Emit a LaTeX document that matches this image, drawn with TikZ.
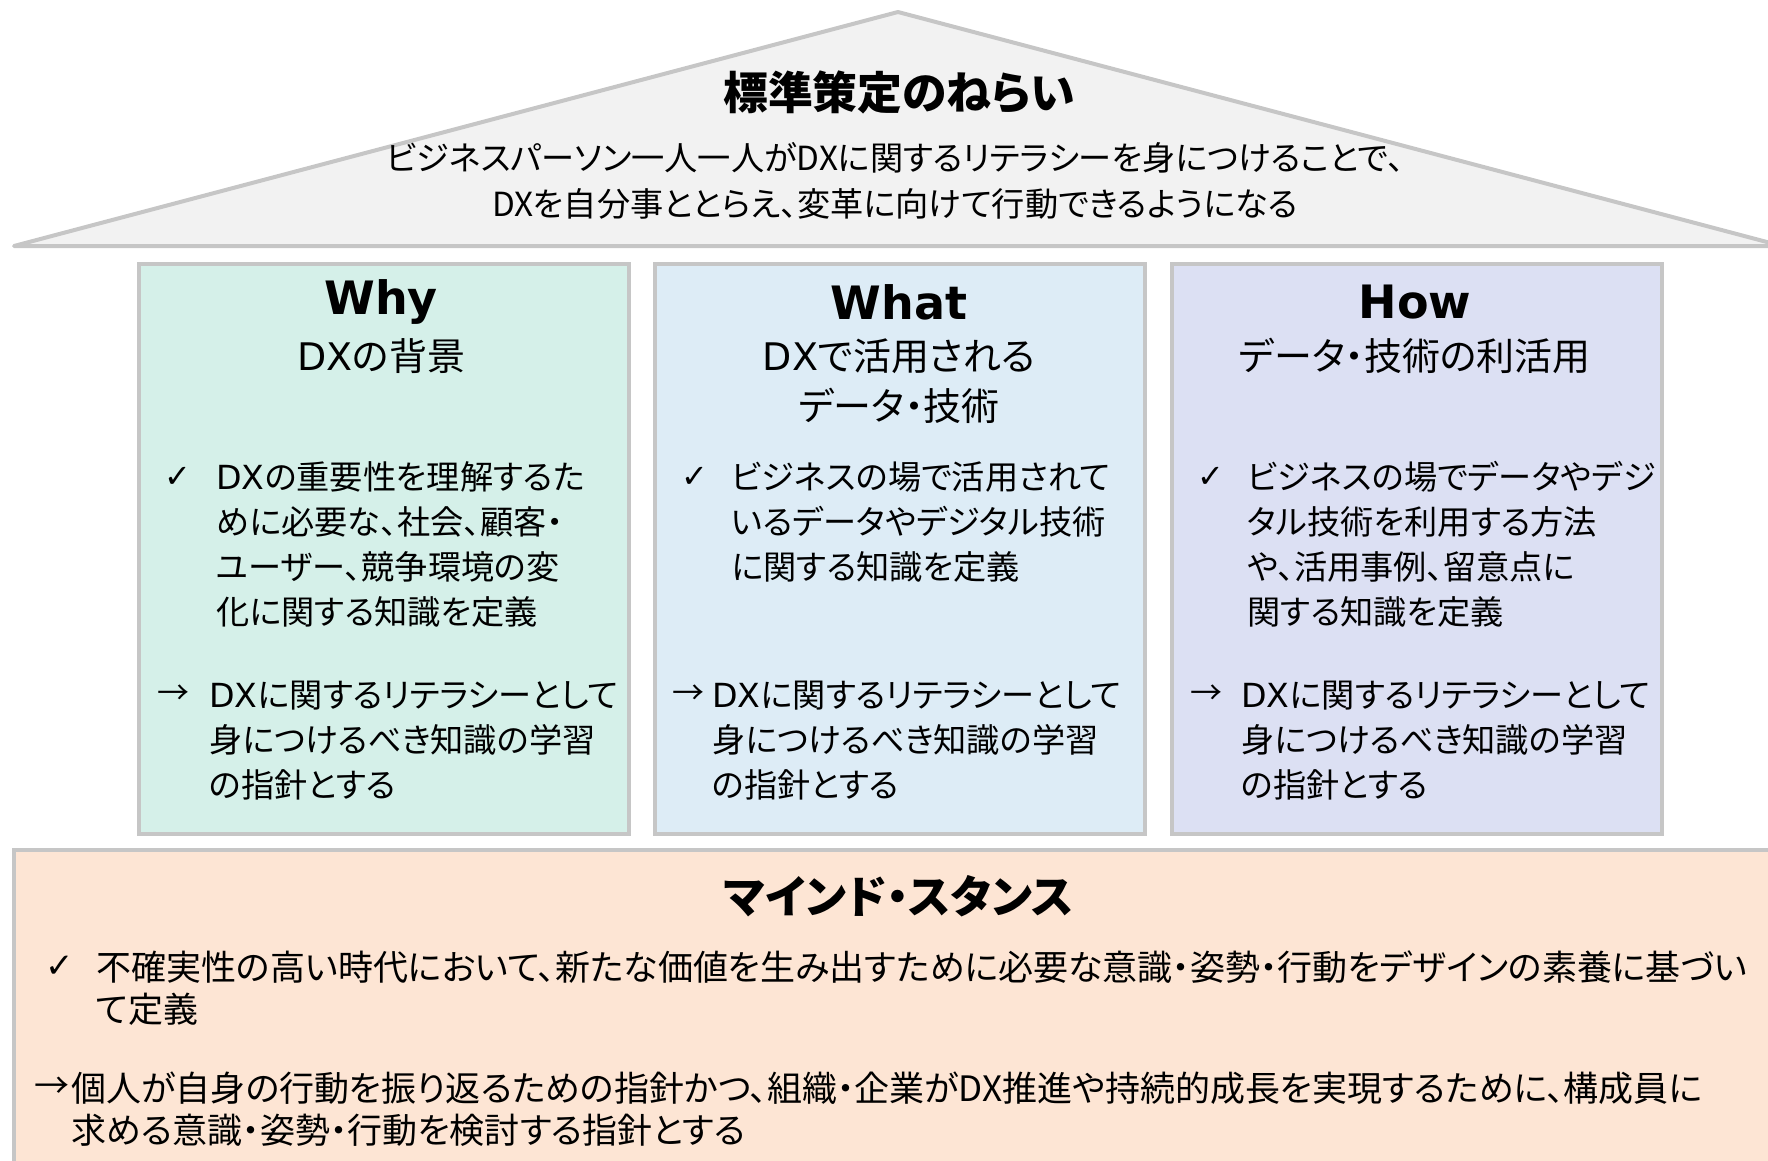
\documentclass[tikz,border=0pt]{standalone}
\usepackage{fontspec}
\setmainfont{Noto Sans CJK JP}
\newfontfamily\uifont[RawFeature=+palt]{Noto Sans CJK JP}
\newfontfamily\latinhead{DejaVu Sans}
\usepackage{xcolor}
\definecolor{roofgray}{HTML}{F2F2F2}
\definecolor{edgegray}{HTML}{C6C6C6}
\definecolor{whyfill}{HTML}{D5F0E9}
\definecolor{whatfill}{HTML}{DDECF6}
\definecolor{howfill}{HTML}{DCE0F3}
\definecolor{mindfill}{HTML}{FDE5D4}
\newcommand{\chk}{{\latinhead ✓}}
\newcommand{\DX}{{\latinhead DX}}
\usetikzlibrary{positioning}

\begin{document}
\begin{tikzpicture}[x=0.5pt, y=-0.5pt,
    panel/.style={draw=edgegray, line width=1.75pt},
    headline/.style={font=\latinhead\fontsize{23}{27}\selectfont\bfseries, inner sep=0pt},
    subline/.style={font=\uifont\fontsize{19}{25}\selectfont, align=center, inner sep=0pt},
    bodytext/.style={font=\uifont\fontsize{16.6}{22.5}\selectfont, align=left, anchor=west, inner sep=0pt},
    bullet/.style={font=\fontsize{16}{22.5}\selectfont, anchor=west, inner sep=0pt},
    mindtext/.style={font=\uifont\fontsize{17.5}{21}\selectfont, align=left, anchor=west, inner sep=0pt}]

    \useasboundingbox (0,0) rectangle (1768,1161);

    % roof
    \draw [draw=edgegray, fill=roofgray, line width=2pt, line join=round]
    (14,246) -- (898,12) -- (1782,246) -- cycle;

    \node [font=\uifont\fontsize{22.4}{26}\selectfont\bfseries, inner sep=0pt]
    (aim) at (899,92) {標準策定のねらい};
    \node [font=\uifont\fontsize{16.6}{23}\selectfont, align=center, inner sep=0pt]
    (aimtext) at (895,181)
    {ビジネスパーソン一人一人がDXに関するリテラシーを身につけることで、\\
     DXを自分事ととらえ、変革に向けて行動できるようになる};

    % pillars
    \foreach \x/\c in {139/whyfill, 655/whatfill, 1172/howfill}
      \draw [panel, fill=\c] (\x,264) rectangle ++(490,570);

    \node [headline] (why) at (381,302) {Why};
    \node [subline] (whysub) at (381,356) {\DX の背景};
    \node [bullet] (whychk) at (164,477) {\chk};
    \node [bodytext] (whybody) at (216,544.5)
    {\DX の重要性を理解するた\\めに必要な、社会、顧客・\\ユーザー、競争環境の変\\化に関する知識を定義};
    \node [bullet] (whyarr) at (157,695) {→};
    \node [bodytext] (whygoal) at (209,740.5)
    {\DX に関するリテラシーとして\\身につけるべき知識の学習\\の指針とする};

    \node [headline] (what) at (899,302) {What};
    \node [subline] (whatsub) at (899,381) {\DX で活用される\\データ・技術};
    \node [bullet] (whatchk) at (681,477) {\chk};
    \node [bodytext] (whatbody) at (731,522)
    {ビジネスの場で活用されて\\いるデータやデジタル技術\\に関する知識を定義};
    \node [bullet] (whatarr) at (672,695) {→};
    \node [bodytext] (whatgoal) at (712,740.5)
    {\DX に関するリテラシーとして\\身につけるべき知識の学習\\の指針とする};

    \node [headline] (how) at (1415,302) {How};
    \node [subline] (howsub) at (1415,356) {データ・技術の利活用};
    \node [bullet] (howchk) at (1197,477) {\chk};
    \node [bodytext] (howbody) at (1247,544.5)
    {ビジネスの場でデータやデジ\\タル技術を利用する方法\\や、活用事例、留意点に\\関する知識を定義};
    \node [bullet] (howarr) at (1190,695) {→};
    \node [bodytext] (howgoal) at (1241,740.5)
    {\DX に関するリテラシーとして\\身につけるべき知識の学習\\の指針とする};

    % foundation
    \draw [panel, fill=mindfill] (14,850) rectangle (1790,1180);
    \node [font=\uifont\fontsize{22.4}{26}\selectfont\bfseries, inner sep=0pt]
    (mind) at (899,896) {マインド・スタンス};
    \node [bullet, font=\fontsize{17}{21}\selectfont] (mindchk) at (45,967) {\chk};
    \node [mindtext] (mindbody) at (96,988)
    {不確実性の高い時代において、新たな価値を生み出すために必要な意識・姿勢・行動をデザインの素養に基づい\\て定義};
    \node [bullet, font=\uifont\fontsize{17.5}{21}\selectfont] (mindarr) at (34,1088) {→};
    \node [mindtext] (mindgoal) at (71,1109.5)
    {個人が自身の行動を振り返るための指針かつ、組織・企業がDX推進や持続的成長を実現するために、構成員に\\求める意識・姿勢・行動を検討する指針とする};

  \end{tikzpicture}
\end{document}
